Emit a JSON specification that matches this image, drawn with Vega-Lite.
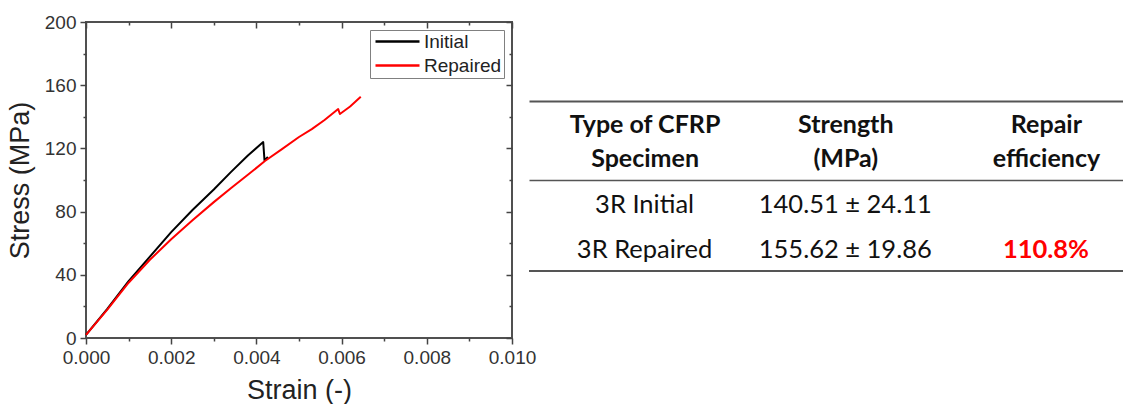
{
  "$schema": "https://vega.github.io/schema/vega-lite/v6.json",
  "background": "#ffffff",
  "padding": {"left": 5, "top": 12, "right": 0, "bottom": 0},
  "bounds": "flush",
  "center": true,
  "spacing": 17,
  "config": {
    "view": {"stroke": null},
    "axis": {"labelFont": "Liberation Sans", "titleFont": "Liberation Sans"}
  },
  "resolve": {"scale": {"color": "independent"}, "legend": {"color": "independent"}},
  "hconcat": [
    {
      "width": 426,
      "height": 316,
      "view": {"stroke": "#505050", "strokeWidth": 2},
      "data": {
        "values": [
          {"specimen": "Initial", "strain": 0, "stress": 2},
          {"specimen": "Initial", "strain": 0.0005, "stress": 18.5},
          {"specimen": "Initial", "strain": 0.001, "stress": 36},
          {"specimen": "Initial", "strain": 0.0015, "stress": 51.5},
          {"specimen": "Initial", "strain": 0.002, "stress": 67},
          {"specimen": "Initial", "strain": 0.0025, "stress": 81},
          {"specimen": "Initial", "strain": 0.003, "stress": 94},
          {"specimen": "Initial", "strain": 0.0034, "stress": 105},
          {"specimen": "Initial", "strain": 0.0038, "stress": 115.5},
          {"specimen": "Initial", "strain": 0.00416, "stress": 124},
          {"specimen": "Initial", "strain": 0.00419, "stress": 112.5},
          {"specimen": "Initial", "strain": 0.00427, "stress": 114.5},
          {"specimen": "Repaired", "strain": 0, "stress": 2},
          {"specimen": "Repaired", "strain": 0.0005, "stress": 18},
          {"specimen": "Repaired", "strain": 0.001, "stress": 35},
          {"specimen": "Repaired", "strain": 0.0015, "stress": 49.5},
          {"specimen": "Repaired", "strain": 0.002, "stress": 62.5},
          {"specimen": "Repaired", "strain": 0.0025, "stress": 74.5},
          {"specimen": "Repaired", "strain": 0.003, "stress": 86},
          {"specimen": "Repaired", "strain": 0.0034, "stress": 94.8},
          {"specimen": "Repaired", "strain": 0.0038, "stress": 103.3},
          {"specimen": "Repaired", "strain": 0.0042, "stress": 112},
          {"specimen": "Repaired", "strain": 0.0046, "stress": 119.5},
          {"specimen": "Repaired", "strain": 0.005, "stress": 127.2},
          {"specimen": "Repaired", "strain": 0.0053, "stress": 132.2},
          {"specimen": "Repaired", "strain": 0.0056, "stress": 138},
          {"specimen": "Repaired", "strain": 0.00592, "stress": 144.9},
          {"specimen": "Repaired", "strain": 0.00596, "stress": 141.8},
          {"specimen": "Repaired", "strain": 0.0062, "stress": 146.5},
          {"specimen": "Repaired", "strain": 0.00645, "stress": 152.7}
        ]
      },
      "encoding": {
        "color": {
          "field": "specimen",
          "type": "nominal",
          "scale": {"domain": ["Initial", "Repaired"], "range": ["#000000", "#ff0000"]},
          "legend": {
            "title": null,
            "orient": "top-right",
            "offset": 8,
            "padding": 2,
            "strokeColor": "#808080",
            "fillColor": "#ffffff",
            "symbolType": "M-1.2,0L7.6,0",
            "symbolSize": 100,
            "symbolStrokeWidth": 2.5,
            "labelFont": "Liberation Sans",
            "labelFontSize": 19,
            "labelColor": "#222222",
            "labelOffset": 33,
            "labelLimit": 200,
            "rowPadding": 4
          }
        }
      },
      "layer": [
        {
          "transform": [{"filter": "datum.specimen === 'Initial'"}],
          "mark": {"type": "line", "strokeWidth": 2, "strokeJoin": "round"},
          "encoding": {
            "x": {
              "field": "strain",
              "type": "quantitative",
              "scale": {"domain": [0, 0.01], "nice": false},
              "axis": {
                "orient": "bottom",
                "values": [0, 0.001, 0.002, 0.003, 0.004, 0.005, 0.006, 0.007, 0.008, 0.009, 0.01],
                "format": ".3f",
                "labelExpr": "round(datum.value * 1000) % 2 === 0 ? datum.label : ''",
                "labelOverlap": false,
                "labelFlush": false,
                "tickSize": {"condition": {"test": "round(datum.value * 1000) % 2 === 0", "value": 6}, "value": 3},
                "tickColor": "#444444",
                "tickWidth": 1.5,
                "domain": false,
                "grid": false,
                "labelFontSize": 19,
                "labelColor": "#333333",
                "labelPadding": 4,
                "title": "Strain (-)",
                "titleFontSize": 27,
                "titleFontWeight": "normal",
                "titleColor": "#222222",
                "titlePadding": 10
              }
            },
            "y": {
              "field": "stress",
              "type": "quantitative",
              "scale": {"domain": [0, 200], "nice": false},
              "axis": {
                "orient": "left",
                "values": [0, 20, 40, 60, 80, 100, 120, 140, 160, 180, 200],
                "format": "d",
                "labelExpr": "datum.value % 40 === 0 ? datum.label : ''",
                "labelOverlap": false,
                "labelFlush": false,
                "tickSize": {"condition": {"test": "datum.value % 40 === 0", "value": 6}, "value": 3},
                "tickColor": "#444444",
                "tickWidth": 1.5,
                "domain": false,
                "grid": false,
                "labelFontSize": 19,
                "labelColor": "#333333",
                "labelPadding": 4,
                "title": "Stress (MPa)",
                "titleFontSize": 27,
                "titleFontWeight": "normal",
                "titleColor": "#222222",
                "titlePadding": 10
              }
            }
          }
        },
        {
          "transform": [{"filter": "datum.specimen === 'Repaired'"}],
          "mark": {"type": "line", "strokeWidth": 2, "strokeJoin": "round"},
          "encoding": {
            "x": {
              "field": "strain",
              "type": "quantitative",
              "scale": {"domain": [0, 0.01], "nice": false},
              "axis": {
                "orient": "top",
                "values": [0, 0.001, 0.002, 0.003, 0.004, 0.005, 0.006, 0.007, 0.008, 0.009, 0.01],
                "labels": false,
                "tickSize": {"condition": {"test": "round(datum.value * 1000) % 2 === 0", "value": -6}, "value": -3},
                "tickColor": "#444444",
                "tickWidth": 1.5,
                "domain": false,
                "grid": false,
                "title": null
              }
            },
            "y": {
              "field": "stress",
              "type": "quantitative",
              "scale": {"domain": [0, 200], "nice": false},
              "axis": {
                "orient": "right",
                "values": [0, 20, 40, 60, 80, 100, 120, 140, 160, 180, 200],
                "labels": false,
                "tickSize": {"condition": {"test": "datum.value % 40 === 0", "value": -6}, "value": -3},
                "tickColor": "#444444",
                "tickWidth": 1.5,
                "domain": false,
                "grid": false,
                "title": null
              }
            }
          }
        }
      ],
      "resolve": {"axis": {"x": "independent", "y": "independent"}}
    },
    {
      "width": 594,
      "height": 182,
      "data": {
        "values": [
          {"Type of CFRP Specimen": "3R Initial", "Strength (MPa)": "140.51 ± 24.11", "Repair efficiency": ""},
          {"Type of CFRP Specimen": "3R Repaired", "Strength (MPa)": "155.62 ± 19.86", "Repair efficiency": "110.8%"}
        ]
      },
      "layer": [
        {
          "transform": [
            {"fold": ["Type of CFRP Specimen", "Strength (MPa)", "Repair efficiency"], "as": ["column", "cell"]},
            {"filter": "datum.column !== 'Repair efficiency'"}
          ],
          "mark": {"type": "text", "font": "Lato", "fontSize": 25.5, "color": "#111111", "dy": 2},
          "encoding": {
            "x": {
              "field": "column",
              "type": "nominal",
              "scale": {
                "type": "point",
                "domain": ["Type of CFRP Specimen", "Strength (MPa)", "Repair efficiency"],
                "padding": 0.48,
                "align": 0.6
              },
              "axis": {
                "orient": "top",
                "offset": -91,
                "labelExpr": "[substring(datum.label, 0, lastindexof(datum.label, ' ')), substring(datum.label, lastindexof(datum.label, ' ') + 1)]",
                "labelAngle": 0,
                "labelFont": "Lato",
                "labelFontSize": 25,
                "labelFontWeight": "bold",
                "labelColor": "#111111",
                "labelLineHeight": 34,
                "labelPadding": 43,
                "labelLimit": 400,
                "ticks": false,
                "domain": true,
                "domainColor": "#555555",
                "domainWidth": 1.6,
                "grid": false,
                "title": null
              }
            },
            "y": {
              "field": "Type of CFRP Specimen",
              "type": "nominal",
              "scale": {
                "type": "band",
                "domain": ["3R Initial", "3R Repaired"],
                "paddingInner": 0,
                "paddingOuter": 1,
                "align": 1
              },
              "axis": null
            },
            "text": {"field": "cell", "type": "nominal"}
          }
        },
        {
          "transform": [
            {"fold": ["Type of CFRP Specimen", "Strength (MPa)", "Repair efficiency"], "as": ["column", "cell"]},
            {"filter": "datum.column === 'Repair efficiency' && datum.cell !== ''"}
          ],
          "mark": {"type": "text", "font": "Lato", "fontSize": 25.5, "fontWeight": "bold", "color": "#ff0000", "dy": 2},
          "encoding": {
            "x": {
              "field": "column",
              "type": "nominal",
              "axis": {
                "orient": "top",
                "offset": -12,
                "labels": false,
                "ticks": false,
                "domain": true,
                "domainColor": "#555555",
                "domainWidth": 2,
                "grid": false,
                "title": null
              }
            },
            "y": {"field": "Type of CFRP Specimen", "type": "nominal", "axis": null},
            "text": {"field": "cell", "type": "nominal"}
          }
        },
        {
          "transform": [{"filter": "datum['Type of CFRP Specimen'] === '3R Repaired'"}],
          "mark": {"type": "rule", "color": "#555555", "strokeWidth": 2},
          "encoding": {
            "y": {"field": "Type of CFRP Specimen", "type": "nominal", "bandPosition": 1, "axis": null}
          }
        }
      ],
      "resolve": {"axis": {"x": "independent"}}
    }
  ]
}
